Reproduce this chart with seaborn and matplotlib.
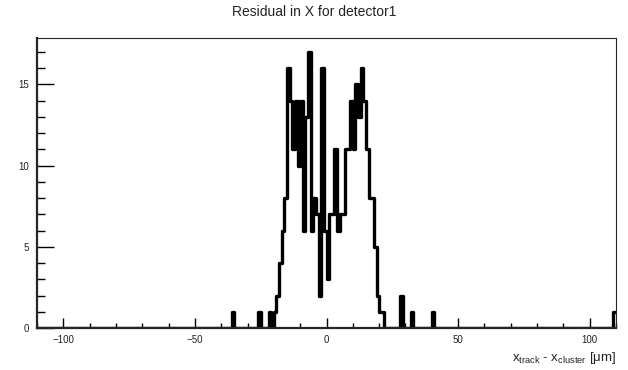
import numpy as np
import pandas as pd
import matplotlib
matplotlib.use("Agg")
import matplotlib.pyplot as plt
import seaborn as sns
from matplotlib.ticker import MultipleLocator

# residual histogram, 1 um bins from -110 to 110 (only non-empty bins listed)
bin_low = [-36, -26, -22, -20, -19, -18, -17, -16, -15, -14, -13, -12, -11, -10,
           -9, -8, -7, -6, -5, -4, -3, -2, -1, 0, 1, 2, 3, 4, 5, 6, 7, 8, 9,
           10, 11, 12, 13, 14, 15, 16, 17, 18, 19, 20, 21, 28, 32, 40, 109]
counts = [1, 1, 1, 1, 2, 4, 6, 8, 16, 14, 11, 14, 10, 14,
          6, 13, 17, 6, 8, 7, 2, 16, 6, 3, 7, 7, 11, 6, 7, 7, 11, 11, 14,
          11, 15, 13, 16, 14, 11, 8, 8, 5, 2, 1, 1, 2, 1, 1, 1]

edges = [float(e) for e in range(-110, 111)]
df = pd.DataFrame({"x": np.array(bin_low) + 0.5, "n": counts})

sns.set_style("ticks")
plt.rcParams["font.family"] = ["Liberation Sans", "DejaVu Sans"]
plt.rcParams["mathtext.fontset"] = "custom"
plt.rcParams["mathtext.rm"] = "Liberation Sans"
plt.rcParams["mathtext.it"] = "Liberation Sans"

fig = plt.figure(figsize=(6.28, 3.70), dpi=100)
ax = fig.add_axes([37 / 628, 1 - 328 / 370, (616 - 37) / 628, (328 - 38) / 370])

sns.histplot(data=df, x="x", weights="n", bins=edges, element="step", fill=False,
             color="black", linewidth=2.4, ax=ax)

ax.set_xlim(-110, 110)
ax.set_ylim(0, 17.85)
ax.xaxis.set_major_locator(MultipleLocator(50))
ax.xaxis.set_minor_locator(MultipleLocator(10))
ax.yaxis.set_major_locator(MultipleLocator(5))
ax.yaxis.set_minor_locator(MultipleLocator(1))
ax.tick_params(which="both", direction="in", top=False, right=False,
               labelsize=7, colors="black", labelcolor="#222222", width=1)
ax.tick_params(axis="y", which="major", length=12, pad=6)
ax.tick_params(axis="y", which="minor", length=6)
ax.tick_params(axis="x", which="major", length=7, pad=5)
ax.tick_params(axis="x", which="minor", length=3.5)
for s in ["top", "right"]:
    ax.spines[s].set_linewidth(0.8)
for s in ["left", "bottom"]:
    ax.spines[s].set_linewidth(1.6)
ax.set_xlabel("")
ax.set_ylabel("")

fig.text(0.5, 1 - 12 / 370, "Residual in X for detector1", ha="center", va="center",
         fontsize=10, color="#222222")
fig.text(616 / 628, 1 - 358 / 370,
         r"x$_{\mathrm{track}}$ - x$_{\mathrm{cluster}}$ [$\mathrm{\mu}$m]",
         ha="right", va="center", fontsize=9.5, color="#222222")

fig.savefig("out.png", dpi=100)
